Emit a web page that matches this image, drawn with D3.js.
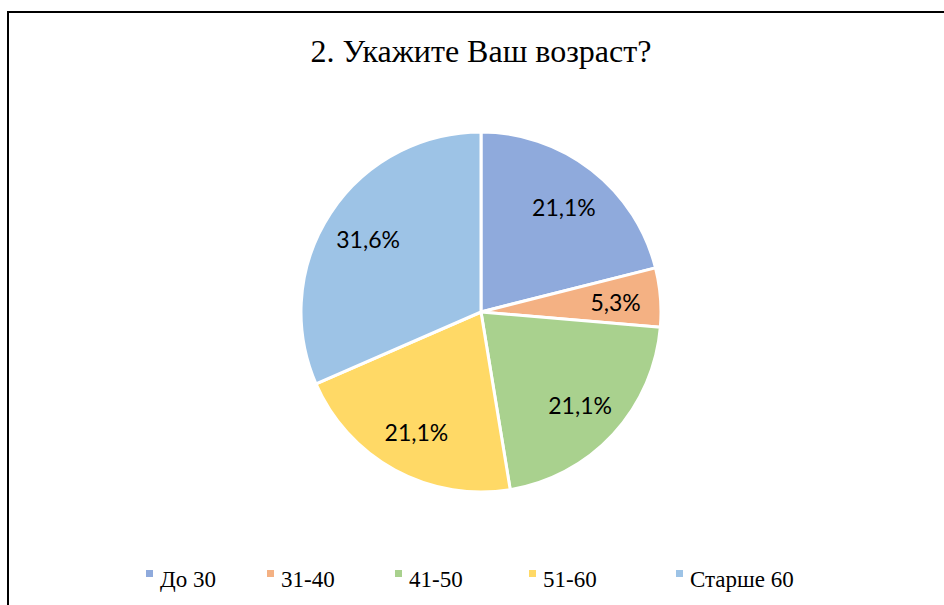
<!DOCTYPE html>
<html>
<head>
<meta charset="utf-8">
<script src="https://cdn.jsdelivr.net/npm/d3@7"></script>
<style>
  body { margin: 0; background: #fff; }
  svg { display: block; }
</style>
</head>
<body>
<div id="chart"></div>
<script>
// data
const categories = ['До 30', '31-40', '41-50', '51-60', 'Старше 60'];
const values = [21.1, 5.3, 21.1, 21.1, 31.6];
const labels = ['21,1%', '5,3%', '21,1%', '21,1%', '31,6%'];
const colors = ['#8FAADC', '#F4B183', '#A9D18E', '#FFD966', '#9DC3E6'];

const width = 944,
  height = 605,
  cx = 481,
  cy = 312,
  radius = 180;

const svg = d3
  .select('#chart')
  .append('svg')
  .attr('width', width)
  .attr('height', height);

svg.append('rect').attr('width', width).attr('height', height).attr('fill', '#fff');

// chart frame (runs past the right and bottom edge)
svg
  .append('rect')
  .attr('x', 8)
  .attr('y', 12)
  .attr('width', 1000)
  .attr('height', 700)
  .attr('fill', 'none')
  .attr('stroke', '#000')
  .attr('stroke-width', 2);

// title
svg
  .append('text')
  .attr('x', cx)
  .attr('y', 62)
  .attr('text-anchor', 'middle')
  .attr('font-family', '"Liberation Serif", "Times New Roman", serif')
  .attr('font-size', 32)
  .attr('fill', '#000')
  .text('2. Укажите Ваш возраст?');

const color = d3.scaleOrdinal().domain(categories).range(colors);

const pie = d3
  .pie()
  .sort(null)
  .value((d) => d.value);

const data = categories.map((c, i) => ({ cat: c, value: values[i], label: labels[i] }));
const arcs = pie(data);

const arc = d3.arc().innerRadius(0).outerRadius(radius);
const labelArc = d3.arc().innerRadius(radius * 0.75).outerRadius(radius * 0.75);

const g = svg.append('g').attr('transform', `translate(${cx},${cy})`);

g.selectAll('path')
  .data(arcs)
  .join('path')
  .attr('d', arc)
  .attr('fill', (d) => color(d.data.cat))
  .attr('stroke', '#fff')
  .attr('stroke-width', 3)
  .attr('stroke-linejoin', 'round');

g.selectAll('text')
  .data(arcs)
  .join('text')
  .attr('transform', (d) => `translate(${labelArc.centroid(d)})`)
  .attr('text-anchor', 'middle')
  .attr('dy', '0.45em')
  .attr('font-family', 'Lato, "Open Sans", sans-serif')
  .attr('font-size', 23)
  .attr('fill', '#000')
  .text((d) => d.data.label);

// legend
const legendX = [146, 267, 395, 529, 676];
const legend = svg
  .append('g')
  .selectAll('g')
  .data(categories)
  .join('g')
  .attr('transform', (d, i) => `translate(${legendX[i]},570)`);

legend
  .append('rect')
  .attr('width', 7)
  .attr('height', 7)
  .attr('fill', (d) => color(d));

legend
  .append('text')
  .attr('x', 14)
  .attr('y', 17)
  .attr('font-family', '"Liberation Serif", "Times New Roman", serif')
  .attr('font-size', 23)
  .attr('fill', '#000')
  .text((d) => d);
</script>
</body>
</html>
